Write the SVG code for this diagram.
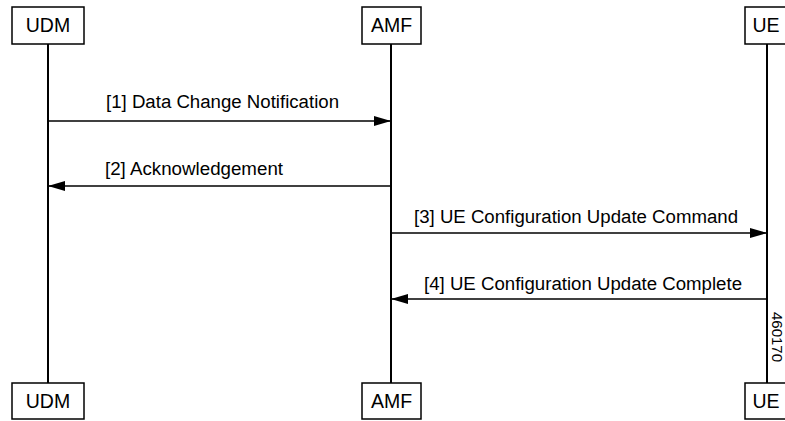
<svg xmlns="http://www.w3.org/2000/svg" width="785" height="421" viewBox="0 0 785 421">
<style>
.box{fill:#fff;stroke:#000;stroke-width:1.5}
.bt{font-family:"Liberation Sans",Arial,sans-serif;font-size:19.5px;text-anchor:middle;fill:#000}
.lt{font-family:"Liberation Sans",Arial,sans-serif;font-size:18px;fill:#000}
.ll{stroke:#000;stroke-width:2;fill:none}
.msg{stroke:#000;stroke-width:1.5;fill:none;marker-end:url(#ah)}
</style>
<defs>
<marker id="ah" viewBox="0 0 17 10" refX="17" refY="5" markerWidth="17" markerHeight="10" markerUnits="userSpaceOnUse" orient="auto">
<path d="M0,0 L17,5 L0,10 Z" fill="#000"/>
</marker>
</defs>
<g id="lifelines">
<line class="ll" x1="48" y1="44" x2="48" y2="383"/>
<line class="ll" x1="391" y1="44" x2="391" y2="383"/>
<line class="ll" x1="767" y1="44" x2="767" y2="383"/>
</g>
<g id="UDM">
<rect class="box" x="12" y="7" width="72" height="37"/>
<text class="bt" x="48" y="32">UDM</text>
</g>
<g id="AMF">
<rect class="box" x="362" y="7" width="59" height="37"/>
<text class="bt" x="391.5" y="32">AMF</text>
</g>
<g id="UE">
<rect class="box" x="745" y="7" width="44" height="37"/>
<text class="bt" x="766" y="32">UE</text>
</g>
<g id="UDM-bottom">
<rect class="box" x="12" y="383" width="72" height="36"/>
<text class="bt" x="48" y="408">UDM</text>
</g>
<g id="AMF-bottom">
<rect class="box" x="362" y="383" width="59" height="36"/>
<text class="bt" x="391.5" y="408">AMF</text>
</g>
<g id="UE-bottom">
<rect class="box" x="745" y="383" width="44" height="36"/>
<text class="bt" x="766" y="408">UE</text>
</g>
<g id="connectors">
<line class="msg" x1="48" y1="121" x2="391" y2="121"/>
<line class="msg" x1="391" y1="186" x2="48" y2="186"/>
<line class="msg" x1="391" y1="233" x2="767" y2="233"/>
<line class="msg" x1="767" y1="299" x2="391" y2="299"/>
</g>
<g id="labels">
<text class="lt" x="106" y="108" textLength="233" lengthAdjust="spacingAndGlyphs">[1] Data Change Notification</text>
<text class="lt" x="105" y="175" textLength="178" lengthAdjust="spacingAndGlyphs">[2] Acknowledgement</text>
<text class="lt" x="414" y="223" textLength="324" lengthAdjust="spacingAndGlyphs">[3] UE Configuration Update Command</text>
<text class="lt" x="424" y="290" textLength="318" lengthAdjust="spacingAndGlyphs">[4] UE Configuration Update Complete</text>
<text font-family="'Liberation Sans',Arial,sans-serif" font-size="15" fill="#000" transform="translate(772,312) rotate(90)">460170</text>
</g>
</svg>
